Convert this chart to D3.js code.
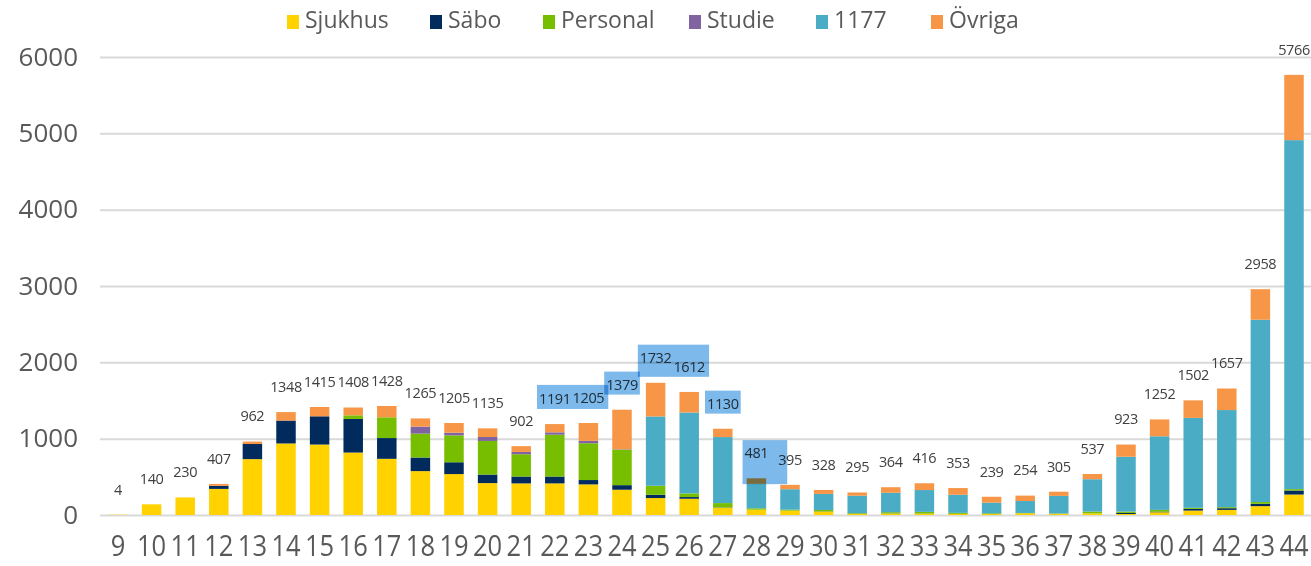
<!DOCTYPE html>
<html>
<head>
<meta charset="utf-8">
<script src="https://cdn.jsdelivr.net/npm/d3@7"></script>
<style>
  body { margin: 0; background: #fff; }
  text { font-family: 'Open Sans', sans-serif; }
</style>
</head>
<body>
<div class="chart"></div>
<script>
let weeks = d3.range(9, 45);

let seriesNames = ['Sjukhus', 'Säbo', 'Personal', 'Studie', '1177', 'Övriga'];

let sjukhus = [4, 140, 230, 342, 732, 937, 923, 818, 736, 575, 536, 418, 414, 414, 401, 331, 222, 213,
  96, 70, 57, 44, 13, 18, 18, 13, 13, 22, 15, 22, 13, 36, 58, 67, 116, 268];
let sabo = [0, 0, 0, 40, 198, 300, 370, 440, 272, 178, 155, 112, 90, 90, 57, 60, 43, 22,
  4, 0, 0, 2, 2, 2, 2, 2, 0, 0, 0, 0, 14, 8, 22, 22, 31, 53];
let personal = [0, 0, 0, 0, 0, 0, 0, 48, 272, 313, 352, 440, 292, 548, 482, 466, 118, 48,
  56, 18, 13, 20, 9, 17, 21, 13, 9, 5, 5, 23, 18, 23, 14, 14, 23, 18];
let studie = [0, 0, 0, 0, 0, 0, 0, 0, 0, 92, 35, 52, 30, 31, 31, 5, 0, 0,
  0, 0, 0, 0, 0, 0, 0, 0, 0, 0, 0, 0, 0, 0, 0, 0, 0, 0];
let ettett = [0, 0, 0, 0, 0, 0, 0, 0, 0, 0, 0, 0, 0, 0, 0, 0, 908, 1060,
  865, 320, 268, 210, 228, 254, 286, 237, 140, 156, 230, 424, 718, 964, 1178, 1272, 2388, 4572];
let ovriga = [0, 0, 0, 25, 32, 111, 122, 102, 148, 107, 127, 113, 76, 108, 234, 517, 441, 269,
  109, 73, 57, 52, 43, 73, 89, 88, 77, 71, 55, 68, 160, 221, 230, 282, 400, 855];

let yTicks = [0, 1000, 2000, 3000, 4000, 5000, 6000];

// week groups whose labels were marked with a blue box
let highlightGroups = [[22, 23], [24], [25, 26], [27], [28]];

let colors = ['#FFD200', '#002B5C', '#78BE00', '#8064A2', '#4BACC6', '#F79646'];

let rows = weeks.map((w, i) => ({
  week: w,
  Sjukhus: sjukhus[i],
  'Säbo': sabo[i],
  Personal: personal[i],
  Studie: studie[i],
  '1177': ettett[i],
  'Övriga': ovriga[i]
}));

let width = 1311, height = 566;

let svg = d3.select('.chart')
  .append('svg')
  .attr('width', width)
  .attr('height', height);

let x = d3.scaleBand()
  .domain(weeks)
  .range([101.2, 1310.8])
  .paddingInner(0.42)
  .paddingOuter(0.21);

let y = d3.scaleLinear()
  .domain([0, 6000])
  .range([515, 57]);

let color = d3.scaleOrdinal().domain(seriesNames).range(colors);

// gridlines + y labels
let yAxis = svg.append('g')
  .attr('transform', 'translate(100,0)')
  .call(d3.axisLeft(y).tickValues(yTicks).tickSize(-(width - 100)).tickPadding(22).tickFormat(d3.format('d')));
yAxis.select('.domain').remove();
yAxis.selectAll('line').attr('stroke', '#d9d9d9').attr('stroke-width', 2);
yAxis.selectAll('text')
  .attr('fill', '#595959')
  .style('font-size', '26px');

// bars
let stacked = d3.stack().keys(seriesNames)(rows);

svg.append('g')
  .selectAll('g')
  .data(stacked)
  .join('g')
  .attr('fill', d => color(d.key))
  .selectAll('rect')
  .data(d => d)
  .join('rect')
  .attr('x', d => x(d.data.week))
  .attr('y', d => y(d[1]))
  .attr('width', x.bandwidth())
  .attr('height', d => y(d[0]) - y(d[1]));

// x labels (narrow face in the original, so squeeze a bit)
let xAxis = svg.append('g')
  .attr('transform', 'translate(0,535)')
  .call(d3.axisBottom(x).tickSize(0).tickPadding(0));
xAxis.select('.domain').remove();
xAxis.selectAll('text')
  .attr('fill', '#595959')
  .attr('dy', '0.71em')
  .attr('transform', 'scale(0.88,1)')
  .style('font-size', '29px');

// totals
let totals = rows.map(r => ({ week: r.week, total: d3.sum(seriesNames, k => r[k]) }));

let labels = svg.append('g')
  .selectAll('text')
  .data(totals)
  .join('text')
  .attr('x', d => x(d.week) + x.bandwidth() / 2)
  .attr('y', d => y(d.total) - 24)
  .attr('text-anchor', 'middle')
  .attr('dominant-baseline', 'middle')
  .attr('fill', '#404040')
  .style('font-size', '14.5px')
  .style('letter-spacing', '-0.4px')
  .text(d => d.total);

// blue highlight boxes over some labels
let boxes = highlightGroups.map(g => {
  let nodes = labels.filter(d => g.includes(d.week)).nodes();
  let bb = nodes.map(n => n.getBBox());
  let x0 = d3.min(bb, b => b.x), x1 = d3.max(bb, b => b.x + b.width);
  let y0 = d3.min(bb, b => b.y), y1 = d3.max(bb, b => b.y + b.height);
  let extra = g[0] === 28 ? { r: 19, b: 22 } : { r: g.length > 1 ? 4 : 2, b: 1 };
  return { x: x0 - 2, y: y0 - 3, w: x1 - x0 + 2 + extra.r, h: y1 - y0 + 3 + extra.b };
});

svg.append('g')
  .selectAll('rect')
  .data(boxes)
  .join('rect')
  .attr('x', d => d.x)
  .attr('y', d => d.y)
  .attr('width', d => d.w)
  .attr('height', d => d.h)
  .attr('fill', '#7DB9EA')
  .style('mix-blend-mode', 'multiply');

// legend
let legendX = [287, 430, 543, 689, 816, 931];
let legend = svg.append('g')
  .selectAll('g')
  .data(seriesNames)
  .join('g')
  .attr('transform', (d, i) => `translate(${legendX[i]},22)`);
legend.append('rect')
  .attr('x', 0)
  .attr('y', -7)
  .attr('width', 12)
  .attr('height', 14)
  .attr('fill', d => color(d));
legend.append('text')
  .attr('x', 18)
  .attr('y', 0)
  .attr('dominant-baseline', 'middle')
  .attr('fill', '#595959')
  .style('font-size', '23px')
  .text(d => d);
</script>
</body>
</html>
